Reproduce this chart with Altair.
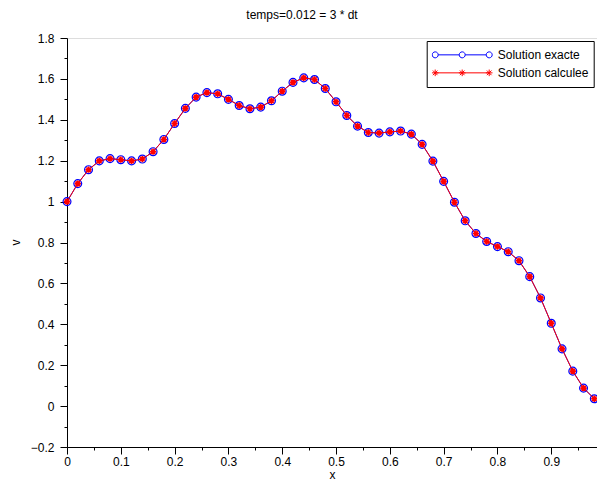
import altair as alt
import pandas as pd

# ---- data ----
x_values = [0.00, 0.02, 0.04, 0.06, 0.08, 0.10, 0.12, 0.14, 0.16, 0.18,
            0.20, 0.22, 0.24, 0.26, 0.28, 0.30, 0.32, 0.34, 0.36, 0.38,
            0.40, 0.42, 0.44, 0.46, 0.48, 0.50, 0.52, 0.54, 0.56, 0.58,
            0.60, 0.62, 0.64, 0.66, 0.68, 0.70, 0.72, 0.74, 0.76, 0.78,
            0.80, 0.82, 0.84, 0.86, 0.88, 0.90, 0.92, 0.94, 0.96, 0.98]

v_exacte = [1.000, 1.088, 1.156, 1.199, 1.210, 1.205, 1.199, 1.208, 1.244, 1.304,
            1.382, 1.456, 1.511, 1.533, 1.527, 1.500, 1.470, 1.454, 1.462, 1.493,
            1.540, 1.583, 1.605, 1.597, 1.553, 1.488, 1.421, 1.369, 1.338, 1.335,
            1.341, 1.345, 1.330, 1.280, 1.198, 1.099, 0.997, 0.906, 0.844, 0.805,
            0.780, 0.755, 0.711, 0.633, 0.529, 0.405, 0.280, 0.171, 0.088, 0.036]

v_calculee = [1.000, 1.088, 1.156, 1.199, 1.210, 1.205, 1.199, 1.208, 1.244, 1.304,
              1.382, 1.456, 1.511, 1.533, 1.527, 1.500, 1.470, 1.454, 1.462, 1.493,
              1.540, 1.583, 1.605, 1.597, 1.553, 1.488, 1.421, 1.369, 1.338, 1.335,
              1.341, 1.345, 1.330, 1.280, 1.198, 1.099, 0.997, 0.906, 0.844, 0.805,
              0.780, 0.755, 0.711, 0.633, 0.529, 0.405, 0.280, 0.171, 0.088, 0.036]

series_names = ["Solution exacte", "Solution calculee"]
series_colors = ["#0000ff", "#ff0000"]

x_ticks = [round(i * 0.05, 2) for i in range(0, 20)]       # 0 .. 0.95
y_ticks = [round(-0.2 + i * 0.1, 1) for i in range(0, 21)]  # -0.2 .. 1.8

title_text = "temps=0.012 = 3 * dt"

FONT = "Liberation Sans"

# ---- tables ----
wide = pd.DataFrame({"x": x_values, "exacte": v_exacte, "calculee": v_calculee})
long = pd.concat([
    pd.DataFrame({"x": x_values, "v": v_exacte, "serie": series_names[0]}),
    pd.DataFrame({"x": x_values, "v": v_calculee, "serie": series_names[1]}),
])

# ---- marker shapes ----
asterisk = "M-1,0L1,0M0,-1L0,1M-0.7,-0.7L0.7,0.7M-0.7,0.7L0.7,-0.7"

def circ(cx, r):
    return f"M{cx - r},0A{r},{r} 0 1,0 {cx + r},0A{r},{r} 0 1,0 {cx - r},0"

def star(cx, a):
    d = a * 0.7
    return (f"M{cx - a},0L{cx + a},0M{cx},{-a}L{cx},{a}"
            f"M{cx - d},{-d}L{cx + d},{d}M{cx - d},{d}L{cx + d},{-d}")

r = 0.1
c = 0.9
legend_exacte = (circ(-c, r) + circ(0, r) + circ(c, r)
                 + f"M{-c + r},0L{-r},0M{r},0L{c - r},0")
legend_calculee = (f"M{-c},0L{c},0" + star(-c, 0.11) + star(0, 0.11) + star(c, 0.11))

# ---- axes ----
minor_x = "abs(datum.value*10 - round(datum.value*10)) > 0.001"
minor_y = "abs(datum.value*5 - round(datum.value*5)) > 0.001"

x_axis = alt.Axis(
    values=x_ticks, format="~g",
    labelExpr=f"({minor_x}) ? '' : datum.label",
    tickSize={"condition": {"test": minor_x, "value": 3}, "value": 7},
    title="x", titleFont=FONT, titleFontSize=12, titleFontWeight="normal",
    titleColor="black", titleX=265, titleY=31, titleBaseline="alphabetic",
    titleAnchor="middle",
    labelFont=FONT, labelFontSize=12, labelColor="black", labelPadding=2,
    labelOverlap=False, labelBound=False, labelFlush=False,
    domainColor="black", tickColor="black", grid=False,
)
y_axis = alt.Axis(
    values=y_ticks, format="~g",
    labelExpr=f"({minor_y}) ? '' : datum.label",
    tickSize={"condition": {"test": minor_y, "value": 3}, "value": 7},
    title="v", titleFont=FONT, titleFontSize=12, titleFontWeight="normal",
    titleColor="black", titleX=-48, titleY=204, titleAngle=270,
    titleBaseline="alphabetic", titleAlign="center",
    labelFont=FONT, labelFontSize=12, labelColor="black", labelPadding=6,
    labelOverlap=False, labelBound=False, labelFlush=False,
    domainColor="black", tickColor="black", grid=False,
)

x_scale = alt.Scale(domain=[0, 0.985], nice=False, zero=False)
y_scale = alt.Scale(domain=[-0.2, 1.8], nice=False, zero=False)

base = alt.Chart(wide)

line_exacte = base.mark_line(color=series_colors[0], strokeWidth=1).encode(
    x=alt.X("x:Q", scale=x_scale, axis=x_axis),
    y=alt.Y("exacte:Q", scale=y_scale, axis=y_axis),
)
pts_exacte = base.mark_point(shape="circle", size=62, filled=False,
                             color=series_colors[0], strokeWidth=1.2, opacity=1).encode(
    x=alt.X("x:Q", scale=x_scale, axis=x_axis),
    y=alt.Y("exacte:Q", scale=y_scale, axis=y_axis),
)
line_calc = base.mark_line(color=series_colors[1], strokeWidth=1).encode(
    x=alt.X("x:Q", scale=x_scale, axis=x_axis),
    y=alt.Y("calculee:Q", scale=y_scale, axis=y_axis),
)
pts_calc = base.mark_point(shape=asterisk, size=40, filled=False,
                           color=series_colors[1], strokeWidth=1.6, opacity=1).encode(
    x=alt.X("x:Q", scale=x_scale, axis=x_axis),
    y=alt.Y("calculee:Q", scale=y_scale, axis=y_axis),
)

legend_layer = alt.Chart(long).mark_point(filled=False, opacity=0, strokeWidth=1).encode(
    x=alt.X("x:Q", scale=x_scale, axis=x_axis),
    y=alt.Y("v:Q", scale=y_scale, axis=y_axis),
    color=alt.Color("serie:N",
                    scale=alt.Scale(domain=series_names, range=series_colors),
                    legend=alt.Legend(
                        orient="none", legendX=359.7, legendY=3, title=None,
                        fillColor="white", strokeColor="black", padding=5,
                        symbolSize=3600, symbolStrokeWidth=1, symbolOpacity=1,
                        labelFont=FONT, labelFontSize=12, labelColor="black",
                        labelOffset=5, clipHeight=17.7, rowPadding=0,
                    )),
    shape=alt.Shape("serie:N",
                    scale=alt.Scale(domain=series_names,
                                    range=[legend_exacte, legend_calculee])),
)

chart = alt.layer(line_exacte, pts_exacte, line_calc, pts_calc, legend_layer).properties(
    width=530, height=409,
    padding={"left": 59, "top": 30, "right": 0, "bottom": 34},
    autosize=alt.AutoSizeParams(type="none"),
    title=alt.TitleParams(title_text, font=FONT, fontSize=12, fontWeight="normal",
                          color="black", anchor="middle", frame="group",
                          dx=-30, offset=1, baseline="alphabetic"),
).configure_view(stroke="black", strokeWidth=1).configure(background="white")

chart.save("out.html", embed_options={"renderer": "svg", "actions": False})
